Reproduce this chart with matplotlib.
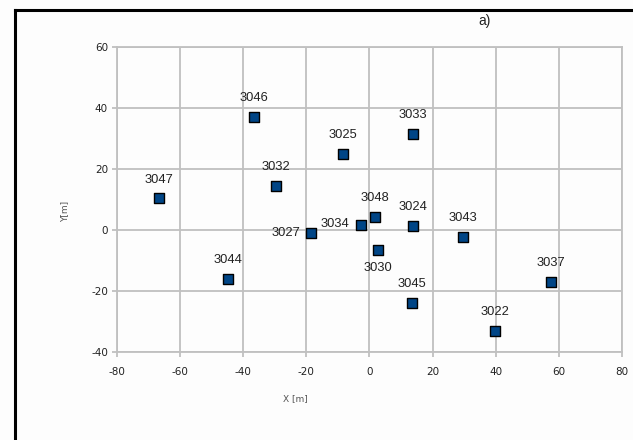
import matplotlib.pyplot as plt
from matplotlib.lines import Line2D

plt.rcParams['axes.unicode_minus'] = False

# station coordinates
stations = ['3046', '3047', '3032', '3025', '3033', '3027', '3044', '3034',
            '3048', '3024', '3043', '3030', '3037', '3045', '3022']
x_m = [-36.6, -66.7, -29.7, -8.3, 13.9, -18.5, -44.8, -2.8,
       1.7, 13.7, 29.5, 2.6, 57.5, 13.5, 39.8]
y_m = [37.1, 10.4, 14.5, 24.9, 31.4, -1.1, -16.1, 1.6,
       4.2, 1.3, -2.2, -6.6, -16.9, -23.8, -33.0]

xticks = [-80, -60, -40, -20, 0, 20, 40, 60, 80]
yticks = [-40, -20, 0, 20, 40, 60]

# where each label sits relative to its marker (default: above)
label_side = {'3027': 'left', '3034': 'left', '3030': 'below'}

grid_col = '#c0c0c0'
txt_col = '#222222'

fig = plt.figure(figsize=(6.33, 4.4), dpi=100)
fig.patch.set_facecolor('#fdfdfd')
ax = fig.add_axes([0.1848, 0.2, 0.7978, 0.6932])
ax.set_facecolor('#fdfdfd')

ax.scatter(x_m, y_m, marker='s', s=52, c='#004586', edgecolors='black',
           linewidths=1.0, zorder=3)

for name, x, y in zip(stations, x_m, y_m):
    side = label_side.get(name, 'above')
    if side == 'left':
        off, ha, va = (-8, 0.5), 'right', 'center'
    elif side == 'below':
        off, ha, va = (0, -13), 'center', 'center'
    else:
        off, ha, va = (0, 13.5), 'center', 'center'
    ax.annotate(name, (x, y), xytext=off, textcoords='offset points',
                ha=ha, va=va, fontsize=9.3, family='Liberation Sans',
                color='#222222', zorder=4)

ax.set_xlim(-80, 80)
ax.set_ylim(-40, 60)
ax.set_xticks(xticks)
ax.set_yticks(yticks)
ax.grid(True, color=grid_col, linewidth=1.3)
ax.set_axisbelow(True)
for sp in ax.spines.values():
    sp.set_color(grid_col)
    sp.set_linewidth(1.3)
ax.tick_params(length=3.5, width=1.3, color=grid_col, labelsize=7.5,
               labelcolor=txt_col)
ax.tick_params(axis='x', pad=7)
ax.tick_params(axis='y', pad=3)

ax.set_xlabel('X [m]', fontsize=6.5, color='#555555')
ax.xaxis.set_label_coords(0.354, -0.138)
ax.set_ylabel('Y[m]', fontsize=6.5, color='#555555')
ax.yaxis.set_label_coords(-0.095, 0.46)

fig.text(0.766, 0.953, 'a)', fontsize=10, family='Liberation Sans',
         color='#222222', ha='center', va='center')

# black frame around the chart (top and left edges visible)
fig.add_artist(Line2D([15 / 633, 15 / 633], [0, 1 - 10 / 440], color='black',
                      linewidth=2.2, transform=fig.transFigure))
fig.add_artist(Line2D([15 / 633, 1], [1 - 10 / 440, 1 - 10 / 440], color='black',
                      linewidth=2.2, transform=fig.transFigure))

fig.savefig('out.png', dpi=100, facecolor=fig.get_facecolor())
